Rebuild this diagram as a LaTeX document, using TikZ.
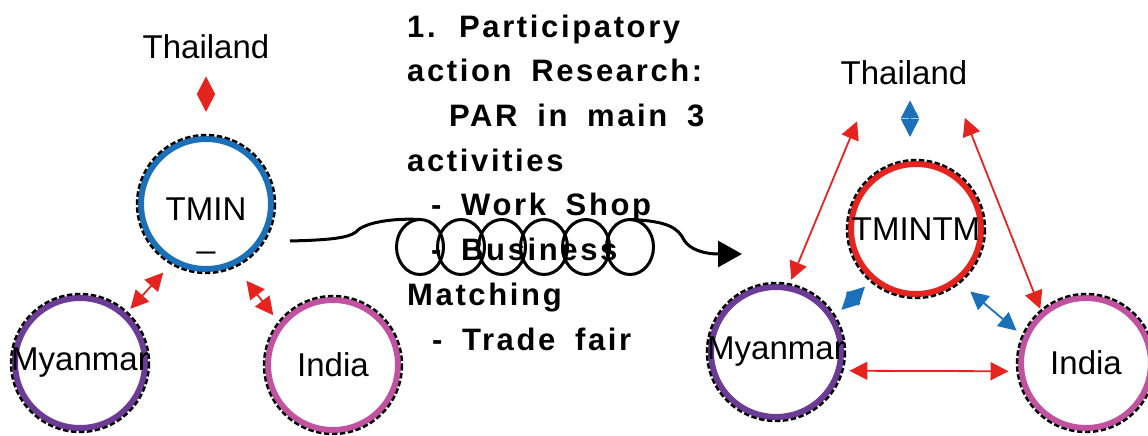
\documentclass[tikz,border=0pt]{standalone}
\usepackage{fontspec}
\setmainfont{Liberation Sans}
\newfontfamily\parfont[LetterSpace=8.5,WordSpace=1.75]{Liberation Sans Bold}
\usepackage{xcolor}
\usepackage{tikz}
\usetikzlibrary{arrows.meta, positioning}
\definecolor{linkred}{RGB}{229,36,32}
\definecolor{linkblue}{RGB}{27,112,186}
\definecolor{ringblue}{RGB}{27,112,186}
\definecolor{ringred}{RGB}{229,36,32}
\definecolor{ringpurple}{RGB}{107,59,150}
\definecolor{ringpink}{RGB}{192,82,160}

\begin{document}
\begin{tikzpicture}[
        x=1pt, y=-1pt,
        every node/.style={font=\fontsize{33pt}{40pt}\selectfont, inner sep=0pt},
        country/.style={circle, draw=#1, line width=6pt, minimum size=130pt, align=center},
        ringdash/.style={draw=black, line width=2.4pt, dash pattern=on 5.5pt off 2.5pt},
        twoway/.style={line width=1.8pt, {Triangle[length=18pt,width=18pt]}-{Triangle[length=18pt,width=18pt]}},
        partext/.style={font=\parfont\fontsize{31pt}{44.7pt}\selectfont, align=left},
        coilline/.style={line width=3pt}
    ]
    \useasboundingbox (0,0) rectangle (1148,436);

    % Nodes
    \node (thai1) at (206,47) {Thailand};
    \node[country=ringblue] (tmin) at (206,204) {\rule{0pt}{66pt}TMIN\\[-13pt]\_};
    \node[country=ringpurple] (myan1) at (80,363) {\makebox[0pt]{Myanmar}};
    \node[country=ringpink] (india1) at (333,365) {India};

    \node (thai2) at (904,73) {Thailand};
    \node[country=ringred] (tmintm) at (916,229) {\makebox[0pt]{TMINTM}};
    \node[country=ringpurple] (myan2) at (776,352) {\makebox[0pt]{Myanmar}};
    \node[country=ringpink] (india2) at (1086,363) {India};

    \foreach \n in {tmin,myan1,india1,tmintm,myan2,india2}
        \draw[ringdash] (\n.center) circle (69);

    \node[partext, anchor=north west] (par) at (407,14.5) {1. Participatory\\action Research:\\\hspace*{42pt}PAR in main 3\\activities\\\hspace*{24pt}- Work Shop\\\hspace*{24pt}- Business\\Matching\\\hspace*{25pt}- Trade fair};

    % Edges
    \draw[twoway, linkred, shorten <=17pt, shorten >=24pt] (thai1.south) -- (tmin.north);
    \draw[twoway, linkred, shorten <=6pt, shorten >=13pt] (myan1.47) -- (tmin.240);
    \draw[twoway, linkred, shorten <=19pt, shorten >=10pt] (tmin.295) -- (india1.142);

    \draw[twoway, linkblue, shorten <=15pt, shorten >=24pt] ([xshift=6pt]thai2.south) -- ([xshift=-6pt]tmintm.north);
    \draw[twoway, linkred, shorten <=39pt, shorten >=6pt] ([xshift=-32pt]thai2.south) -- (myan2.79);
    \draw[twoway, linkred, shorten <=35pt, shorten >=3pt] ([xshift=48pt]thai2.south) -- (india2.131);
    \draw[twoway, linkblue, shorten <=10pt, shorten >=9pt] (myan2.31) -- (tmintm.229);
    \draw[twoway, linkblue, shorten <=15pt, shorten >=9pt] (tmintm.309) -- (india2.157);
    \draw[twoway, linkred, shorten <=8pt, shorten >=10pt] (myan2.344) -- (india2.187);

    % Coil connector
    \coordinate (parin) at (290,241);
    \coordinate (coilL) at (420,219.5);
    \coordinate (coilR) at (630,219.5);
    \coordinate (parout) at (742,254);
    \draw[coilline] (parin) .. controls (330,240) and (348,238) .. (356,232) .. controls (364,222) and (395,218) .. (coilL);
    \foreach \cx in {420,461,502,544,586,630}
        \draw[coilline] (\cx,247) ellipse (23.5 and 27.5);
    \draw[coilline, -{Triangle[length=24pt,width=26pt]}] (coilR) .. controls (668,221) and (678,228) .. (684,240) .. controls (690,250) and (705,254) .. (parout);
\end{tikzpicture}
\end{document}
